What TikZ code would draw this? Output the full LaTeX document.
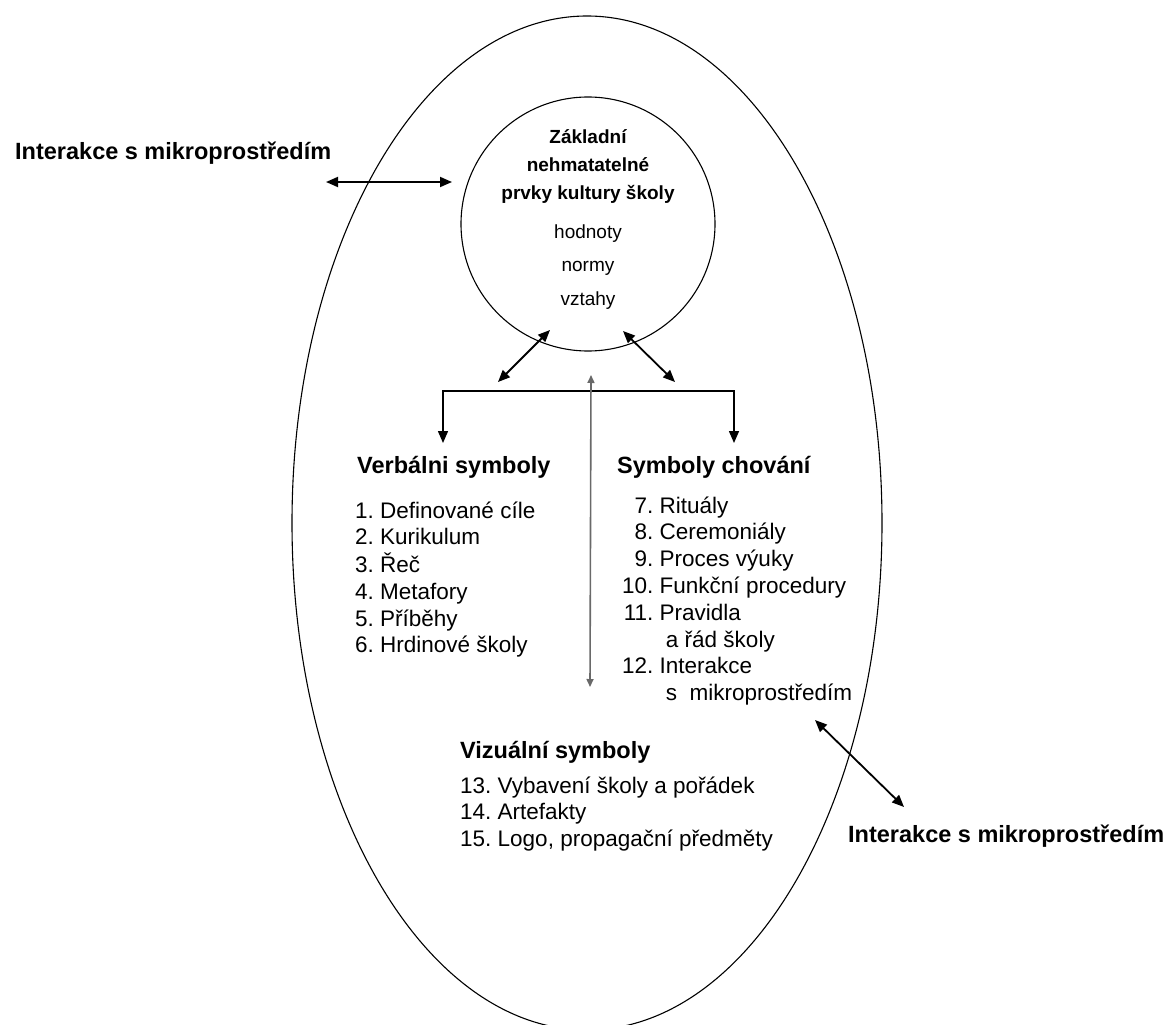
\documentclass[tikz,border=0pt]{standalone}
\usepackage{fontspec}
\setmainfont{Liberation Sans}
\usetikzlibrary{arrows.meta,positioning,calc,shapes.geometric}
\definecolor{seda}{RGB}{105,105,105}
\tikzset{
  nadpis/.style={font=\fontsize{23.5}{27}\selectfont\bfseries, anchor=base west, inner sep=0pt},
  seznam/.style={font=\fontsize{22.5}{26.8}\selectfont, anchor=base west, inner sep=0pt},
  jadroT/.style={font=\fontsize{19}{28}\selectfont\bfseries, anchor=base, inner sep=0pt},
  jadroV/.style={font=\fontsize{19}{33.5}\selectfont, anchor=base, inner sep=0pt},
  arr/.style={{Triangle[length=12pt,width=10pt]}-{Triangle[length=12pt,width=10pt]}, line width=1.8pt},
  arrS/.style={{Triangle[length=8pt,width=7pt]}-{Triangle[length=8pt,width=7pt]}, line width=1.6pt, draw=seda},
}

\begin{document}
\begin{tikzpicture}[x=1pt, y=-1pt]
    \useasboundingbox (0,0) rectangle (1176,1025);
    % outer field and core circle
    \node[draw, ellipse, line width=1.1pt, minimum width=590pt, minimum height=1014pt, inner sep=0pt] (skola) at (587,523) {};
    \node[draw, circle, line width=1.1pt, minimum size=254pt, inner sep=0pt] (core) at (588,224) {};
    \node[jadroT] (coreT) at (588,143)
      {\begin{tabular}[t]{@{}c@{}}Základní\\nehmatatelné\\prvky kultury školy\end{tabular}};
    \node[jadroV] (coreV) at (588,238)
      {\begin{tabular}[t]{@{}c@{}}hodnoty\\normy\\vztahy\end{tabular}};
    % outside labels
    \node[nadpis] (intL) at (15,159) {Interakce s mikroprostředím};
    \node[nadpis] (intR) at (848,842) {Interakce s mikroprostředím};
    % three groups of symbols
    \node[nadpis] (verb) at (357,473) {Verbálni symboly};
    \node[seznam] (verbS) at (355,518) {\begin{tabular}[t]{@{}r@{\ }l@{}}
      1.&Definované cíle\\2.&Kurikulum\\3.&Řeč\\4.&Metafory\\5.&Příběhy\\6.&Hrdinové školy\end{tabular}};
    \node[nadpis] (chov) at (617,473) {Symboly chování};
    \node[seznam] (chovS) at (622,513) {\begin{tabular}[t]{@{}r@{\ }l@{}}
      7.&Rituály\\8.&Ceremoniály\\9.&Proces výuky\\10.&Funkční procedury\\11.&Pravidla\\
      &\ a řád školy\\12.&Interakce\\&\ s\ \ mikroprostředím\end{tabular}};
    \node[nadpis] (viz) at (460,758) {Vizuální symboly};
    \node[seznam] (vizS) at (460,793) {\begin{tabular}[t]{@{}r@{\ }l@{}}
      13.&Vybavení školy a pořádek\\14.&Artefakty\\15.&Logo, propagační předměty\end{tabular}};
    % arrow ends
    \coordinate (ilA) at (326,182);
    \coordinate (ilB) at (452,182);
    \coordinate (cL) at (550,330);
    \coordinate (cLe) at (498,382);
    \coordinate (cR) at (623,331);
    \coordinate (cRe) at (675,382);
    \coordinate (bar) at (588,391);
    \coordinate (vTip) at (443,443);
    \coordinate (sTip) at (734,443);
    \coordinate (gTop) at (591,375);
    \coordinate (gBot) at (590,687);
    \coordinate (irA) at (815,720);
    \coordinate (irB) at (904,807);
    \draw[arr] (ilA) -- (ilB);
    \draw[arr] (cL) -- (cLe);
    \draw[arr] (cR) -- (cRe);
    \draw[-{Triangle[length=12pt,width=10pt]}, line width=1.5pt] (bar) -- (vTip |- bar) -- (vTip);
    \draw[-{Triangle[length=12pt,width=10pt]}, line width=1.5pt] (bar) -- (sTip |- bar) -- (sTip);
    \draw[arrS] (gTop) -- (gBot);
    \draw[arr] (irA) -- (irB);
\end{tikzpicture}
\end{document}
